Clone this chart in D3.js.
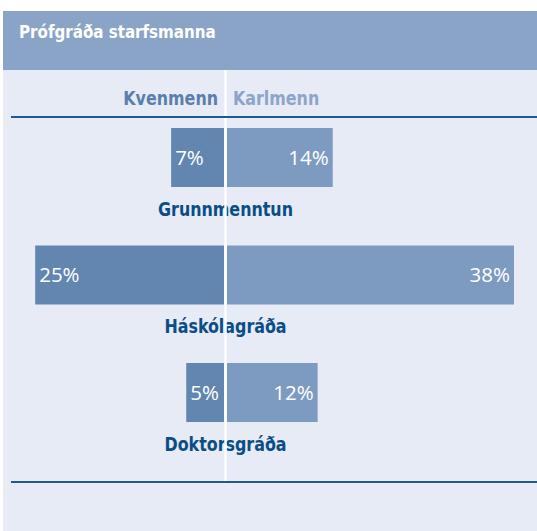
<!DOCTYPE html>
<html>
<head>
<meta charset="utf-8">
<script src="https://cdn.jsdelivr.net/npm/d3@7"></script>
<style>
  body { margin: 0; background: #fff; }
  svg { display: block; }
  .cond { font-family: "DejaVu Sans Condensed", "DejaVu Sans", sans-serif; font-weight: bold; }
  .val { font-family: "Open Sans", "Noto Sans", sans-serif; font-weight: 400; }
</style>
</head>
<body>
<svg width="537" height="531"></svg>
<script>
const categories = ['Grunnmenntun', 'Háskólagráða', 'Doktorsgráða'];
const women = [7, 25, 5];
const men = [14, 38, 12];
const seriesNames = ['Kvenmenn', 'Karlmenn'];
const title = 'Prófgráða starfsmanna';

const svg = d3.select('svg');
const width = +svg.attr('width');
const height = +svg.attr('height');

const center = 225.5;
const squeeze = 0.93; // narrow the bold labels a bit

// panel
svg.append('rect').attr('x', 3).attr('y', 11).attr('width', width - 3).attr('height', height - 11)
  .attr('fill', '#e6ebf5');
svg.append('rect').attr('x', 3).attr('y', 11).attr('width', width - 3).attr('height', 59)
  .attr('fill', '#8aa4c8');

svg.append('text')
  .attr('class', 'cond')
  .attr('x', 19).attr('y', 38)
  .attr('font-size', 16.8)
  .attr('fill', '#fff')
  .text(title);

const data = categories.map((c, i) => ({cat: c, w: women[i], m: men[i]}));

const xRight = d3.scaleLinear().domain([0, 38]).range([center + 1.5, 514]);
const xLeft = d3.scaleLinear().domain([0, 38]).range([center - 1.5, center - 1.5 - 287]);

const y = d3.scaleBand()
  .domain(categories)
  .range([128, 422])
  .paddingInner(0.498)
  .paddingOuter(0);

// legend
svg.append('text').attr('class', 'cond')
  .attr('transform', `translate(218, 105) scale(${squeeze}, 1)`)
  .attr('text-anchor', 'end')
  .attr('font-size', 19)
  .attr('fill', '#5a7fab')
  .text(seriesNames[0]);
svg.append('text').attr('class', 'cond')
  .attr('transform', `translate(233, 105) scale(${squeeze}, 1)`)
  .attr('font-size', 19)
  .attr('fill', '#8ca5c8')
  .text(seriesNames[1]);

const g = svg.append('g');

g.selectAll('rect.w').data(data)
  .enter().append('rect')
    .attr('class', 'w')
    .attr('x', d => xLeft(d.w))
    .attr('y', d => y(d.cat))
    .attr('width', d => xLeft(0) - xLeft(d.w))
    .attr('height', y.bandwidth())
    .attr('fill', '#6286b0');

g.selectAll('rect.m').data(data)
  .enter().append('rect')
    .attr('class', 'm')
    .attr('x', xRight(0))
    .attr('y', d => y(d.cat))
    .attr('width', d => xRight(d.m) - xRight(0))
    .attr('height', y.bandwidth())
    .attr('fill', '#7d9bc1');

g.selectAll('text.wl').data(data)
  .enter().append('text')
    .attr('class', 'val')
    .attr('x', d => xLeft(d.w) + 4)
    .attr('y', d => y(d.cat) + y.bandwidth() / 2)
    .attr('dy', '0.36em')
    .attr('font-size', 20.5)
    .attr('fill', '#fff')
    .text(d => d.w + '%');

g.selectAll('text.ml').data(data)
  .enter().append('text')
    .attr('class', 'val')
    .attr('x', d => xRight(d.m) - 4)
    .attr('y', d => y(d.cat) + y.bandwidth() / 2)
    .attr('dy', '0.36em')
    .attr('text-anchor', 'end')
    .attr('font-size', 20.5)
    .attr('fill', '#fff')
    .text(d => d.m + '%');

// divider
svg.append('line')
  .attr('x1', center).attr('x2', center)
  .attr('y1', 70).attr('y2', 482)
  .attr('stroke', '#fff').attr('stroke-width', 2.5);

g.selectAll('text.cat').data(data)
  .enter().append('text')
    .attr('class', 'cond')
    .attr('transform', d => `translate(${center}, ${y(d.cat) + y.bandwidth() + 29}) scale(${squeeze}, 1)`)
    .attr('text-anchor', 'middle')
    .attr('font-size', 19)
    .attr('fill', '#0b4d86')
    .text(d => d.cat);

// rules
[117, 482].forEach(yy => {
  svg.append('line')
    .attr('x1', 11).attr('x2', width)
    .attr('y1', yy).attr('y2', yy)
    .attr('stroke', '#1d5a8e').attr('stroke-width', 2);
});
</script>
</body>
</html>
